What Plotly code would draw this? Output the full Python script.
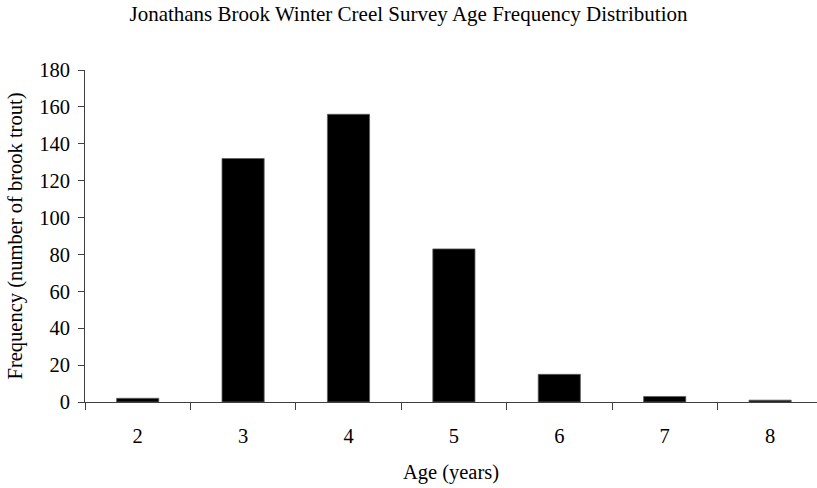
import plotly.graph_objects as go

ages = ["2", "3", "4", "5", "6", "7", "8"]
frequency = [2, 132, 156, 83, 15, 3, 1]

title_text = "Jonathans Brook Winter Creel Survey Age Frequency Distribution"
x_title = "Age (years)"
y_title = "Frequency (number of brook trout)"

FONT = "Liberation Serif, Times New Roman, serif"
AXIS_COLOR = "#404040"

fig = go.Figure(
    go.Bar(
        x=ages,
        y=frequency,
        width=0.4,
        marker=dict(color="black", line=dict(color="#606060", width=0.8)),
        hoverinfo="skip",
    )
)

fig.update_layout(
    width=817,
    height=488,
    margin=dict(l=85, r=0, t=70, b=86),
    paper_bgcolor="white",
    plot_bgcolor="white",
    font=dict(family=FONT, size=20.5, color="black"),
    showlegend=False,
    title=dict(
        text=title_text,
        x=0.5,
        xanchor="center",
        y=0.973,
        yanchor="middle",
        font=dict(family=FONT, size=21, color="black"),
    ),
)

fig.update_xaxes(
    type="category",
    range=[-0.5, 6.445],
    showline=True,
    linecolor=AXIS_COLOR,
    linewidth=1,
    ticks="outside",
    tickson="boundaries",
    ticklen=7,
    tickcolor=AXIS_COLOR,
    tickwidth=1,
    showgrid=False,
    zeroline=False,
    ticklabelstandoff=15,
    title=dict(text=x_title, standoff=19, font=dict(family=FONT, size=20.5)),
)

fig.update_yaxes(
    range=[0, 180],
    dtick=20,
    showline=True,
    linecolor=AXIS_COLOR,
    linewidth=1,
    ticks="outside",
    ticklen=6,
    tickcolor=AXIS_COLOR,
    tickwidth=1,
    showgrid=False,
    zeroline=False,
    ticklabelstandoff=4,
    title=dict(text=y_title, standoff=10, font=dict(family=FONT, size=20.5)),
)

fig.write_html(
    "out.html",
    config={"displayModeBar": False},
    post_script="document.body.style.margin='0px';",
)
